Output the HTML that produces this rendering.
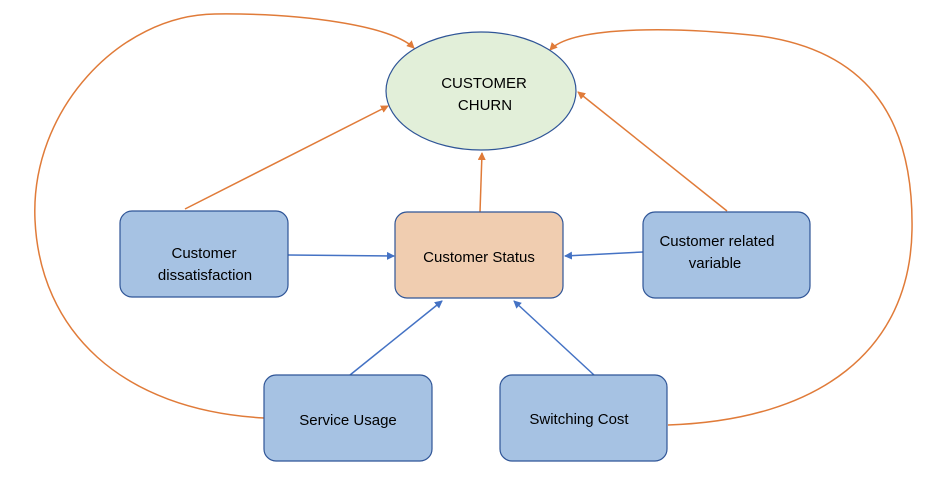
<!DOCTYPE html>
<html><head><style>body{margin:0;background:#fff}</style></head><body>
<svg width="936" height="484" xmlns="http://www.w3.org/2000/svg" font-family="Liberation Sans, sans-serif">
<defs>
<marker id="o" markerWidth="8" markerHeight="8" refX="7" refY="4" orient="auto" markerUnits="userSpaceOnUse"><path d="M0,0 L8,4 L0,8z" fill="#e07b39"/></marker>
<marker id="b" markerWidth="8" markerHeight="8" refX="7" refY="4" orient="auto" markerUnits="userSpaceOnUse"><path d="M0,0 L8,4 L0,8z" fill="#4472c4"/></marker>
</defs>
<g fill="none" stroke="#e07b39" stroke-width="1.5">
<path d="M264,418 C120,410 40,330 35,220 C30,110 120,15 215,14 C300,13 390,25 414,48" marker-end="url(#o)"/>
<path d="M668,425 C820,420 910,350 912,230 C914,110 860,50 760,36 C660,25 570,28 550,50" marker-end="url(#o)"/>
<path d="M185,209 L388,106" marker-end="url(#o)"/>
<path d="M480,212 L482,153" marker-end="url(#o)"/>
<path d="M727,211 L578,92" marker-end="url(#o)"/>
</g>
<g fill="none" stroke="#4472c4" stroke-width="1.5">
<path d="M288,255 L394,256" marker-end="url(#b)"/>
<path d="M643,252 L565,256" marker-end="url(#b)"/>
<path d="M350,375 L442,301" marker-end="url(#b)"/>
<path d="M594,375 L514,301" marker-end="url(#b)"/>
</g>
<ellipse cx="481" cy="91" rx="95" ry="59" fill="#e2efd9" stroke="#2f5597" stroke-width="1.2"/>
<g stroke="#2f5597" stroke-width="1.2">
<rect x="120" y="211" width="168" height="86" rx="12" fill="#a6c2e3"/>
<rect x="395" y="212" width="168" height="86" rx="12" fill="#f0cdb0"/>
<rect x="643" y="212" width="167" height="86" rx="12" fill="#a6c2e3"/>
<rect x="264" y="375" width="168" height="86" rx="12" fill="#a6c2e3"/>
<rect x="500" y="375" width="167" height="86" rx="12" fill="#a6c2e3"/>
</g>
<g font-size="15" fill="#000" text-anchor="middle">
<text x="484" y="88">CUSTOMER</text><text x="485" y="110">CHURN</text>
<text x="204" y="258">Customer</text><text x="205" y="280">dissatisfaction</text>
<text x="479" y="262">Customer Status</text>
<text x="717" y="246">Customer related</text><text x="715" y="268">variable</text>
<text x="348" y="425">Service Usage</text>
<text x="579" y="424">Switching Cost</text>
</g>
</svg>
</body></html>
